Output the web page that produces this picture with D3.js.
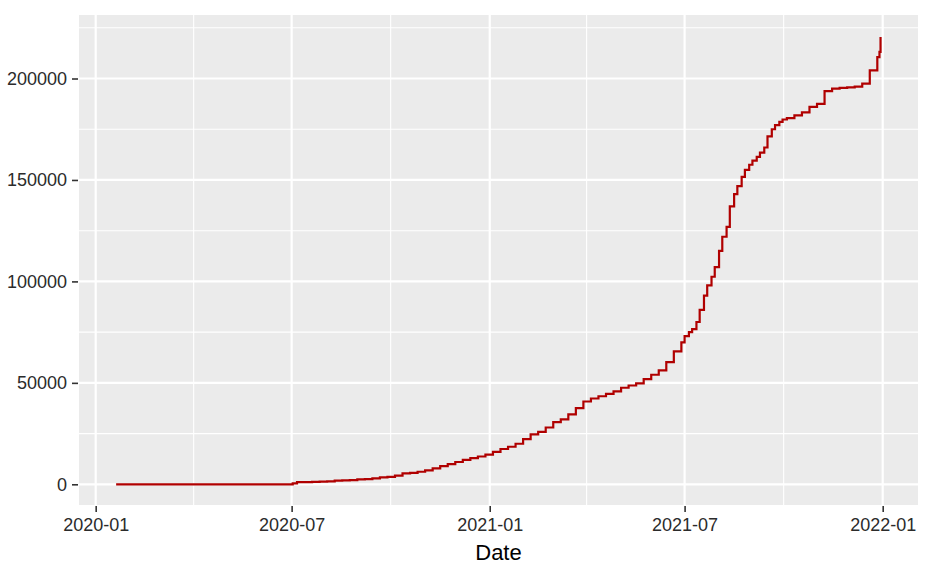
<!DOCTYPE html>
<html>
<head>
<meta charset="utf-8">
<script src="https://cdn.jsdelivr.net/npm/d3@7"></script>
<style>
  html, body { margin: 0; padding: 0; background: #ffffff; }
  svg { display: block; }
  text { font-family: "Liberation Sans", Arial, sans-serif; }
</style>
</head>
<body>
<script>
// ---- Data ----
const dates = [
  "2020-01-20","2020-07-02",
  "2020-07-06","2020-07-13","2020-07-20","2020-07-27","2020-08-03","2020-08-10","2020-08-17","2020-08-24","2020-08-31",
  "2020-09-07","2020-09-14","2020-09-21","2020-09-28","2020-10-05","2020-10-12","2020-10-19","2020-10-26",
  "2020-11-02","2020-11-09","2020-11-16","2020-11-23","2020-11-30","2020-12-07","2020-12-14","2020-12-21","2020-12-28",
  "2021-01-04","2021-01-11","2021-01-18","2021-01-25","2021-02-01","2021-02-08","2021-02-15","2021-02-22",
  "2021-03-01","2021-03-08","2021-03-15","2021-03-22","2021-03-29","2021-04-05","2021-04-12","2021-04-19","2021-04-26",
  "2021-05-03","2021-05-10","2021-05-17","2021-05-24","2021-05-31","2021-06-07","2021-06-14","2021-06-21",
  "2021-06-28","2021-07-01","2021-07-05","2021-07-08","2021-07-12","2021-07-15","2021-07-19","2021-07-22",
  "2021-07-26","2021-07-29","2021-08-02","2021-08-05","2021-08-09","2021-08-12","2021-08-16","2021-08-19",
  "2021-08-23","2021-08-26","2021-08-30","2021-09-02","2021-09-06","2021-09-09","2021-09-13","2021-09-16",
  "2021-09-20","2021-09-23","2021-09-27","2021-09-30",
  "2021-10-04","2021-10-11","2021-10-18","2021-10-25",
  "2021-11-01","2021-11-08","2021-11-15","2021-11-22","2021-11-29","2021-12-06","2021-12-13","2021-12-20","2021-12-27",
  "2021-12-29","2021-12-30"
];
const cases = [
  0, 500,
  1100, 1100, 1200, 1300, 1400, 1800, 1900, 2100, 2400,
  2600, 2900, 3400, 3700, 4300, 5400, 5600, 6200,
  6900, 7900, 9000, 9900, 11000, 12000, 12900, 13700, 14600,
  16000, 17400, 18500, 20000, 22300, 24600, 25800, 28000,
  30600, 32000, 34500, 37500, 40800, 42300, 43400, 44600, 45800,
  47600, 48700, 49700, 51800, 54000, 56200, 60200, 65500,
  70000, 73000, 75000, 76500, 80000, 86000, 93000, 98000,
  102300, 107000, 115000, 122000, 126900, 137000, 143000, 147000,
  151500, 155000, 157500, 159500, 161400, 163500, 166000, 171500,
  175000, 177000, 178600, 179800,
  180500, 181800, 183300, 186000,
  187500, 193800, 195000, 195400, 195600, 196000, 197500, 204000, 210500,
  213100, 220500
];
const yTicks = [0, 50000, 100000, 150000, 200000];
const yMinor = [25000, 75000, 125000, 175000, 225000];
const xTickLabels = ["2020-01", "2020-07", "2021-01", "2021-07", "2022-01"];
const xMinorDates = ["2020-04-01", "2020-10-01", "2021-04-01", "2021-10-01"];
const xTitle = "Date";

// ---- Layout ----
const W = 929, H = 568;
const panel = { left: 79, right: 918, top: 15, bottom: 505 };
const parse = d3.utcParse("%Y-%m-%d");
const parseMonth = d3.utcParse("%Y-%m");

const data = dates.map((d, i) => ({ date: parse(d), value: cases[i] }));

const x = d3.scaleUtc()
  .domain([new Date(Date.UTC(2019, 11, 16, 12)), new Date(Date.UTC(2022, 1, 2, 19))])
  .range([panel.left, panel.right]);
const y = d3.scaleLinear()
  .domain([-10200, 231300])
  .range([panel.bottom, panel.top]);

const svg = d3.select("body").append("svg")
  .attr("width", W).attr("height", H);

// panel background
svg.append("rect")
  .attr("x", panel.left).attr("y", panel.top)
  .attr("width", panel.right - panel.left)
  .attr("height", panel.bottom - panel.top)
  .attr("fill", "#ebebeb");

const grid = svg.append("g");
// minor grid
grid.selectAll("line.hmin").data(yMinor).join("line")
  .attr("x1", panel.left).attr("x2", panel.right)
  .attr("y1", d => y(d)).attr("y2", d => y(d))
  .attr("stroke", "#ffffff").attr("stroke-width", 1.1);
grid.selectAll("line.vmin").data(xMinorDates.map(parse)).join("line")
  .attr("y1", panel.top).attr("y2", panel.bottom)
  .attr("x1", d => x(d)).attr("x2", d => x(d))
  .attr("stroke", "#ffffff").attr("stroke-width", 1.1);
// major grid
grid.selectAll("line.hmaj").data(yTicks).join("line")
  .attr("x1", panel.left).attr("x2", panel.right)
  .attr("y1", d => y(d)).attr("y2", d => y(d))
  .attr("stroke", "#ffffff").attr("stroke-width", 2.2);
grid.selectAll("line.vmaj").data(xTickLabels.map(parseMonth)).join("line")
  .attr("y1", panel.top).attr("y2", panel.bottom)
  .attr("x1", d => x(d)).attr("x2", d => x(d))
  .attr("stroke", "#ffffff").attr("stroke-width", 2.2);

// line
const line = d3.line()
  .x(d => x(d.date))
  .y(d => y(d.value))
  .curve(d3.curveStepAfter);
svg.append("path")
  .datum(data)
  .attr("d", line)
  .attr("fill", "none")
  .attr("stroke", "#b00000")
  .attr("stroke-width", 2.2)
  .attr("stroke-linejoin", "miter");

// axes
const yAxis = d3.axisLeft(y).tickValues(yTicks).tickFormat(d3.format("d")).tickSize(6).tickPadding(5);
const gy = svg.append("g").attr("transform", `translate(${panel.left - 1},0)`).call(yAxis);
gy.select(".domain").remove();
gy.selectAll(".tick line").attr("stroke", "#333333").attr("stroke-width", 1.6);
gy.selectAll(".tick text").attr("fill", "#2b2b2b").style("font-size", "18px");

const xAxis = d3.axisBottom(x).tickValues(xTickLabels.map(parseMonth))
  .tickFormat(d3.utcFormat("%Y-%m")).tickSize(6).tickPadding(6);
const gx = svg.append("g").attr("transform", `translate(0,${panel.bottom + 1})`).call(xAxis);
gx.select(".domain").remove();
gx.selectAll(".tick line").attr("stroke", "#333333").attr("stroke-width", 1.6);
gx.selectAll(".tick text").attr("fill", "#2b2b2b").style("font-size", "18px");

// x title
svg.append("text")
  .attr("x", (panel.left + panel.right) / 2)
  .attr("y", 560)
  .attr("text-anchor", "middle")
  .attr("fill", "#000000")
  .style("font-size", "22px")
  .text(xTitle);
</script>
</body>
</html>
